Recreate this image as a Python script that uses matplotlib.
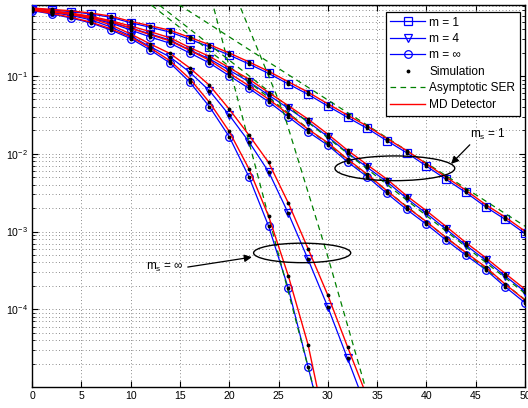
import matplotlib
matplotlib.use('Agg')
import matplotlib.pyplot as plt
from matplotlib.patches import Ellipse
from matplotlib.lines import Line2D
from matplotlib.ticker import LogLocator, NullFormatter, FixedLocator

plt.rcParams['font.family'] = ['Liberation Sans', 'DejaVu Sans']
plt.rcParams['mathtext.fontset'] = 'custom'
plt.rcParams['mathtext.rm'] = 'Liberation Sans'
plt.rcParams['mathtext.it'] = 'Liberation Sans:italic'
plt.rcParams['mathtext.sf'] = 'Liberation Sans'
plt.rcParams['font.size'] = 8

# ---------------- data ----------------
snr_ms1 = [0, 2, 4, 6, 8, 10, 12, 14, 16, 18, 20, 22, 24, 26, 28, 30, 32, 34, 36, 38, 40, 42, 44, 46, 48, 50]
snr_inf_m4 = [0, 2, 4, 6, 8, 10, 12, 14, 16, 18, 20, 22, 24, 26, 28, 30, 32, 34]
snr_inf_minf = [0, 2, 4, 6, 8, 10, 12, 14, 16, 18, 20, 22, 24, 26, 28, 30]

# theory (blue, with markers)
ser_ms1_m1 = [0.743, 0.706, 0.673, 0.628, 0.569, 0.485, 0.423, 0.368, 0.296, 0.238, 0.186, 0.143, 0.108,
              0.0789, 0.0581, 0.0411, 0.0294, 0.0212, 0.0147, 0.0103, 0.00695, 0.00468, 0.00318, 0.00208,
              0.00143, 0.000944]
ser_ms1_m4 = [0.728, 0.676, 0.628, 0.566, 0.495, 0.415, 0.348, 0.290, 0.216, 0.166, 0.119, 0.0845, 0.0569,
              0.0384, 0.0258, 0.0166, 0.0103, 0.00668, 0.00436, 0.00267, 0.00171, 0.00107, 0.000668,
              0.000428, 0.000267, 0.000168]
ser_ms1_minf = [0.718, 0.667, 0.618, 0.550, 0.481, 0.391, 0.318, 0.264, 0.198, 0.147, 0.101, 0.0695, 0.0467,
                0.0299, 0.0192, 0.0129, 0.00789, 0.00506, 0.00309, 0.00192, 0.00124, 0.000774, 0.000497,
                0.000324, 0.000194, 0.000121]
ser_inf_m4 = [0.706, 0.657, 0.601, 0.526, 0.428, 0.328, 0.238, 0.176, 0.112, 0.0647, 0.0315, 0.0143,
              0.00586, 0.00171, 0.000438, 0.000107, 2.33e-5, 5.0e-6]
ser_inf_minf = [0.696, 0.628, 0.557, 0.481, 0.391, 0.304, 0.216, 0.147, 0.0837, 0.0403, 0.0166, 0.00506,
                0.00117, 0.000185, 1.82e-5, 1.7e-6]

# MD detector (red)
md_ms1_m1 = [0.750, 0.720, 0.690, 0.645, 0.590, 0.505, 0.443, 0.388, 0.314, 0.253, 0.198, 0.152, 0.115,
             0.0843, 0.0621, 0.0439, 0.0314, 0.0227, 0.0157, 0.0110, 0.00743, 0.00500, 0.00340, 0.00222,
             0.00153, 0.00101]
md_ms1_m4 = [0.735, 0.690, 0.645, 0.585, 0.515, 0.440, 0.372, 0.310, 0.232, 0.179, 0.128, 0.0912, 0.0614,
             0.0415, 0.0279, 0.0179, 0.0111, 0.00721, 0.00471, 0.00288, 0.00185, 0.00116, 0.000721,
             0.000462, 0.000288, 0.000181]
md_ms1_minf = [0.726, 0.680, 0.635, 0.570, 0.500, 0.412, 0.340, 0.283, 0.214, 0.159, 0.109, 0.0751, 0.0504,
               0.0323, 0.0207, 0.0139, 0.00852, 0.00546, 0.00334, 0.00207, 0.00134, 0.000836, 0.000537,
               0.000350, 0.000210, 0.000131]
md_inf_m4 = [0.718, 0.670, 0.619, 0.551, 0.454, 0.348, 0.258, 0.195, 0.127, 0.0760, 0.0376, 0.0174,
             0.00773, 0.00232, 0.000600, 0.000152, 3.29e-5, 7.4e-6]
md_inf_minf = [0.704, 0.640, 0.569, 0.493, 0.405, 0.318, 0.230, 0.157, 0.0925, 0.0458, 0.0194, 0.00641,
               0.00157, 0.000268, 3.5e-5, 2.2e-6]

# asymptotic SER (green dashed)
asym_snr_ms1_m1 = [14, 50]
asym_ser_ms1_m1 = [0.98, 0.00117]
asym_snr_ms1_m4 = [12, 50]
asym_ser_ms1_m4 = [1.01, 1.6e-4]
asym_snr_ms1_minf = [10, 50]
asym_ser_ms1_minf = [1.33, 1.33e-4]
asym_snr_inf_m4 = [20.5, 25.5, 29.9, 33.8, 35.0]
asym_ser_inf_m4 = [1.2, 0.0344, 5.27e-4, 1.0e-5, 3.0e-6]
asym_snr_inf_minf = [18, 30]
asym_ser_inf_minf = [1.22, 1.95e-6]

x_ticks = [0, 5, 10, 15, 20, 25, 30, 35, 40, 45, 50]
y_ticks = [1e-4, 1e-3, 1e-2, 1e-1]

# ---------------- plot ----------------
fig = plt.figure(figsize=(5.28, 4.08), dpi=100)
ax = fig.add_axes([32 / 528, 1 - 387 / 408, 493 / 528, 382 / 408])
ax.set_yscale('log')

BLUE = (0, 0, 1)
RED = (1, 0, 0)
GREEN = (0, 0.5, 0)
mk = dict(markersize=5.5, markerfacecolor='none', markeredgewidth=0.9, color=BLUE, lw=0.9, zorder=3)

ax.plot(snr_ms1, ser_ms1_m1, marker='s', **mk)
ax.plot(snr_ms1, ser_ms1_m4, marker='v', **mk)
ax.plot(snr_ms1, ser_ms1_minf, marker='o', **mk)
ax.plot(snr_inf_m4, ser_inf_m4, marker='v', **mk)
ax.plot(snr_inf_minf, ser_inf_minf, marker='o', **mk)

dash = dict(color=GREEN, lw=0.9, linestyle=(0, (4.5, 3.5)), zorder=3.5)
ax.plot(asym_snr_ms1_m1, asym_ser_ms1_m1, **dash)
ax.plot(asym_snr_ms1_m4, asym_ser_ms1_m4, **dash)
ax.plot(asym_snr_ms1_minf, asym_ser_ms1_minf, **dash)
ax.plot(asym_snr_inf_m4, asym_ser_inf_m4, **dash)
ax.plot(asym_snr_inf_minf, asym_ser_inf_minf, **dash)

rd = dict(color=RED, lw=1.0, zorder=4)
ax.plot(snr_ms1, md_ms1_m1, **rd)
ax.plot(snr_ms1, md_ms1_m4, **rd)
ax.plot(snr_ms1, md_ms1_minf, **rd)
ax.plot(snr_inf_m4, md_inf_m4, **rd)
ax.plot(snr_inf_minf, md_inf_minf, **rd)

dot = dict(linestyle='none', marker='.', color='k', markersize=3.5, zorder=5)
for xs, ys in [(snr_ms1, ser_ms1_m1), (snr_ms1, ser_ms1_m4), (snr_ms1, ser_ms1_minf),
               (snr_inf_m4, ser_inf_m4), (snr_inf_minf, ser_inf_minf),
               (snr_ms1, md_ms1_m1), (snr_ms1, md_ms1_m4), (snr_ms1, md_ms1_minf),
               (snr_inf_m4, md_inf_m4), (snr_inf_minf, md_inf_minf)]:
    ax.plot(xs, ys, **dot)

ax.set_xlim(0, 50)
ax.set_ylim(1e-5, 0.82)
ax.xaxis.set_major_locator(FixedLocator(x_ticks))
ax.set_xticklabels([str(v) for v in x_ticks])
ax.yaxis.set_major_locator(FixedLocator(y_ticks))
ax.yaxis.set_minor_locator(LogLocator(base=10, subs=range(2, 10), numticks=20))
ax.yaxis.set_minor_formatter(NullFormatter())

ax.tick_params(which='both', direction='in', top=True, right=True, labelsize=7.6, pad=3)
ax.tick_params(which='major', length=4, width=0.8)
ax.tick_params(which='minor', length=2.5, width=0.6)
for s in ax.spines.values():
    s.set_linewidth(1.0)

grid = dict(linestyle=(0, (1, 3)), color='0.4', lw=0.6)
ax.grid(True, which='major', **grid)
ax.grid(True, which='minor', axis='y', **grid)
ax.set_axisbelow(True)

# ellipses and annotations
ax.add_patch(Ellipse((0.736, 0.5725), 0.243, 0.0647, transform=ax.transAxes,
                     fill=False, ec='k', lw=1.0, zorder=6))
ax.add_patch(Ellipse((0.548, 0.351), 0.197, 0.051, transform=ax.transAxes,
                     fill=False, ec='k', lw=1.0, zorder=6))
arrow = dict(arrowstyle='-|>', color='k', lw=0.9, mutation_scale=11, shrinkA=0, shrinkB=0)
ax.annotate('', xy=(0.850, 0.584), xytext=(0.888, 0.634), xycoords='axes fraction',
            arrowprops=arrow, zorder=7)
ax.annotate('', xy=(0.446, 0.340), xytext=(0.316, 0.314), xycoords='axes fraction',
            arrowprops=arrow, zorder=7)
ax.text(0.889, 0.652, r'm$_\mathregular{s}$ = 1', transform=ax.transAxes, fontsize=8.5,
        va='baseline', ha='left', zorder=7)
ax.text(0.231, 0.306, r'm$_\mathregular{s}$ = ∞', transform=ax.transAxes, fontsize=8.5,
        va='baseline', ha='left', zorder=7)

handles = [
    Line2D([], [], marker='s', **mk),
    Line2D([], [], marker='v', **mk),
    Line2D([], [], marker='o', **mk),
    Line2D([], [], **dot),
    Line2D([], [], **dash),
    Line2D([], [], **rd),
]
labels = ['m = 1', 'm = 4', 'm = ∞', 'Simulation', 'Asymptotic SER', 'MD Detector']
leg = ax.legend(handles, labels, loc='upper right', bbox_to_anchor=(0.990, 0.982),
                borderaxespad=0, fontsize=8.6, handlelength=2.9, handletextpad=0.35,
                labelspacing=0.37, borderpad=0.4, fancybox=False, framealpha=1,
                edgecolor='k')
leg.get_frame().set_linewidth(0.9)
leg.set_zorder(10)

fig.savefig('out.png', dpi=100)
